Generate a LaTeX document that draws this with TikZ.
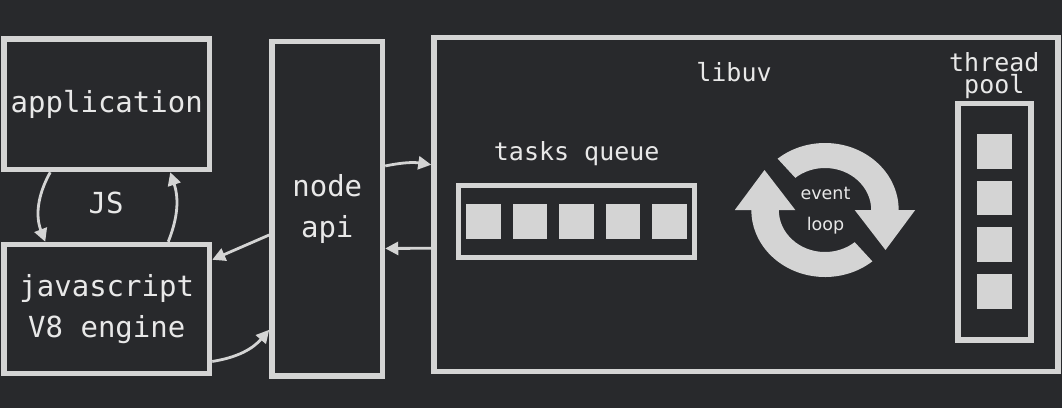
\documentclass[tikz,border=0pt]{standalone}
\usepackage{fontspec}
\setmainfont{DejaVu Sans Mono}
\newfontfamily\loopfont{DejaVu Sans}
\usetikzlibrary{arrows.meta,calc}
\begin{document}
\begin{tikzpicture}[x=1pt, y=-1pt, thick]

  % Define Colors
  \definecolor{bgdark}{HTML}{28292C}
  \definecolor{boxline}{HTML}{D4D4D4}
  \definecolor{boxtext}{HTML}{E8E8E8}

  % Node styles
  \tikzstyle{bigbox}=[rectangle, draw=boxline, line width=5.5pt, text=boxtext, align=center, font=\fontsize{29}{41.7}\selectfont]
  \tikzstyle{inbox}=[rectangle, draw=boxline, line width=5.5pt]
  \tikzstyle{task}=[rectangle, fill=boxline, minimum size=34.6pt, inner sep=0pt]
  \tikzstyle{lbl}=[text=boxtext, font=\fontsize{25}{22}\selectfont, align=center]
  \tikzstyle{link}=[line width=2.8pt, boxline, -{Triangle[length=13pt, width=13pt]}]

  % Background
  \fill[bgdark] (0,0) rectangle (1062,408);
  \useasboundingbox (0,0) rectangle (1062,408);

  % Nodes
  \node[bigbox, minimum width=205.5pt, minimum height=130.5pt] (app) at (106.75,104.25) {application};
  \node[bigbox, minimum width=205.5pt, minimum height=129.2pt] (v8) at (106.75,309.1) {javascript\\V8 engine};
  \node[bigbox, minimum width=110.5pt, minimum height=334.3pt] (nodeapi) at (327.25,208.85) {node\\api};
  \node[bigbox, minimum width=624pt, minimum height=334pt] (libuv) at (746,204.5) {};

  \node[inbox, minimum width=236.4pt, minimum height=72.2pt] (taskq) at (576.5,221.4) {};
  \node[inbox, minimum width=73pt, minimum height=236.7pt] (tpool) at (994.5,221.7) {};

  \foreach \i in {0,...,4}
    \node[task] (tq_\i) at (483.3+46.6*\i, 221.2) {};
  \foreach \i in {0,...,3}
    \node[task] (tp_\i) at (994.6, 151.2+46.7*\i) {};

  % Labels
  \node[lbl, anchor=base] (libuv_lbl) at (734,81.7) {libuv};
  \node[lbl, anchor=base] (taskq_lbl) at (576.7,160) {tasks queue};
  \node[lbl] (tpool_lbl) at (994.3,75.2) {thread\\pool};
  \node[text=boxtext, font=\fontsize{29}{35}\selectfont] (js_lbl) at (106,202.7) {JS};

  % Event loop
  \begin{scope}[shift={(825,210)}, xscale=1.1, yscale=-1]
    \fill[boxline] (130:67) arc[start angle=130, end angle=0, radius=67] -- (82,0) -- (55,-40) -- (27,0) -- (42,0) arc[start angle=0, end angle=130, radius=42] -- cycle;
    \fill[boxline] (-50:67) arc[start angle=-50, end angle=-180, radius=67] -- (-82,0) -- (-55,40) -- (-27,0) -- (-42,0) arc[start angle=180, end angle=310, radius=42] -- cycle;
  \end{scope}
  \node[text=boxtext, font=\loopfont\fontsize{17.5}{30.7}\selectfont, align=center] (evloop) at (825.5,210.5) {event\\loop};

  % JS links
  \draw[link] ($(app.south west)+(49,0)$) to[bend right=25] ($(v8.north west)+(44,0)$);
  \draw[link] ($(v8.north east)+(-44,0)$) to[bend right=20] ($(app.south east)+(-42,0)$);

  % node api links
  \draw[link] ($(nodeapi.north west)+(0,196)$) -- ($(v8.north east)+(0,18)$);
  \draw[link] ($(v8.south east)+(0,-15)$) to[bend right=20] ($(nodeapi.south west)+(0,-49)$);

  % libuv links
  \draw[link] ($(nodeapi.north east)+(0,127)$) to[bend left=10] ($(libuv.north west)+(0,130)$);
  \draw[link] ($(libuv.north west)+(0,213.5)$) -- ($(nodeapi.north east)+(0,209.5)$);

\end{tikzpicture}
\end{document}
